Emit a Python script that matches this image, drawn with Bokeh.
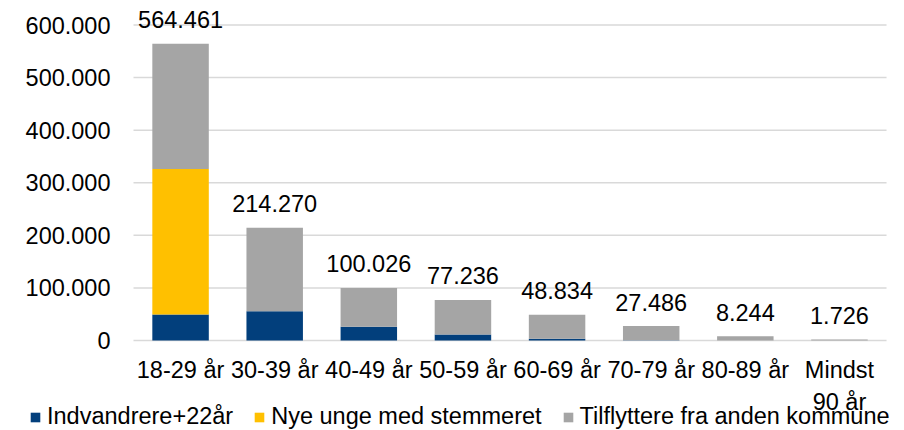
from bokeh.plotting import figure
from bokeh.models import ColumnDataSource, Legend, LegendItem, Range1d
from bokeh.core.properties import value
from bokeh.embed import file_html
from bokeh.resources import INLINE

categories = ["18-29 år", "30-39 år", "40-49 år", "50-59 år", "60-69 år",
              "70-79 år", "80-89 år", "Mindst\n90 år"]
indvandrere = [49500, 55700, 26000, 11400, 3500, 600, 0, 0]
nye_unge = [276500, 0, 0, 0, 0, 0, 0, 0]
tilflyttere = [238461, 158570, 74026, 65836, 45334, 26886, 8244, 1726]
series_names = ["Indvandrere+22år", "Nye unge med stemmeret", "Tilflyttere fra anden kommune"]
y_ticks = [0, 100000, 200000, 300000, 400000, 500000, 600000]
y_tick_labels = ["0", "100.000", "200.000", "300.000", "400.000", "500.000", "600.000"]
colors = ["#023F7C", "#FFC000", "#A5A5A5"]

FONT = "Liberation Sans"
FS = "23.5px"

n = len(categories)
xpos = [i + 0.5 for i in range(n)]
totals = [a + b + c for a, b, c in zip(indvandrere, nye_unge, tilflyttere)]
total_labels = [f"{t:,}".replace(",", ".") for t in totals]

src = ColumnDataSource(dict(x=xpos, cat=categories, s0=indvandrere, s1=nye_unge, s2=tilflyttere,
                            total=totals, label=total_labels))

# frame covers the whole canvas; left part holds the y labels, bottom the category labels and legend
p = figure(x_range=Range1d(-1.413, n + 0.191), y_range=Range1d(-171160, 646600),
           width=904, height=430, output_backend="svg", toolbar_location=None,
           min_border_left=0, min_border_right=0, min_border_top=0, min_border_bottom=0)
p.outline_line_color = None
p.xaxis.visible = False
p.yaxis.visible = False
p.xgrid.visible = False
p.ygrid.visible = False

# horizontal gridlines across the category area
p.segment(x0=[0] * len(y_ticks), x1=[n] * len(y_ticks), y0=y_ticks, y1=y_ticks,
          line_color="#D9D9D9", line_width=1.5)

renderers = p.vbar_stack(["s0", "s1", "s2"], x="x", width=0.6, color=colors,
                         line_color=None, source=src)

# total labels
p.text(x="x", y="total", text="label", source=src, text_align="center",
       text_baseline="alphabetic", y_offset=-24, text_font=value(FONT),
       text_font_size=FS, text_color="black")

# y tick labels
p.text(x=[0] * len(y_ticks), y=y_ticks, text=y_tick_labels, text_align="right",
       text_baseline="middle", x_offset=-23, text_font=value(FONT),
       text_font_size=FS, text_color="black")

# category labels
p.text(x="x", y=0, text="cat", source=src, text_align="center",
       text_baseline="top", y_offset=17, text_line_height=1.2, text_font=value(FONT),
       text_font_size=FS, text_color="black")

legend = Legend(items=[LegendItem(label=nm, renderers=[r]) for nm, r in zip(series_names, renderers)],
                orientation="horizontal", location=(29, 0),
                glyph_width=12, glyph_height=12, label_standoff=6, spacing=20,
                padding=0, margin=0, border_line_color=None, background_fill_alpha=0,
                label_text_font=FONT, label_text_font_size=FS, label_text_color="black")
p.add_layout(legend)

open("out.html", "w").write(file_html(p, INLINE))
